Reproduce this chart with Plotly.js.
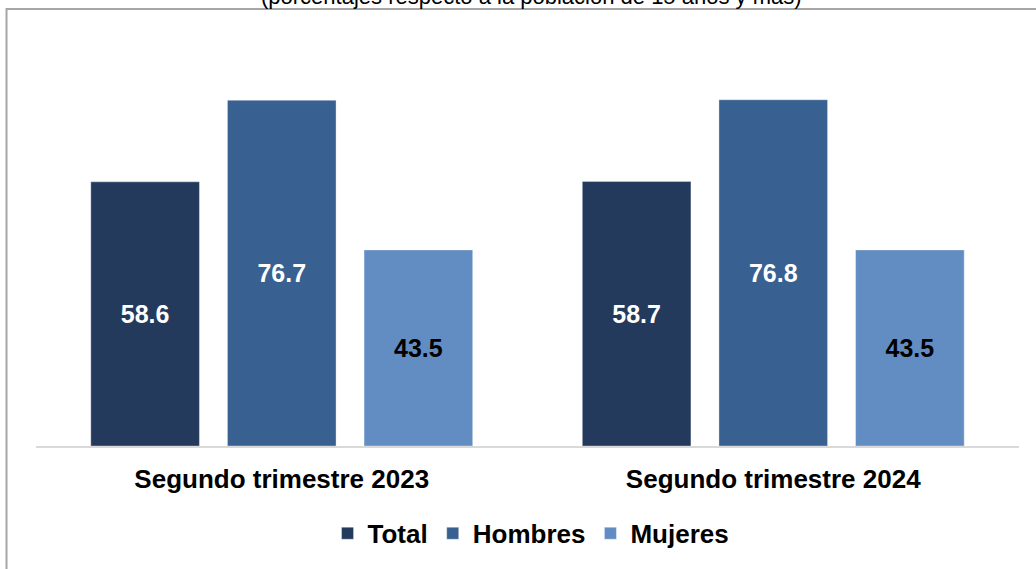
<!DOCTYPE html>
<html>
<head>
<meta charset="utf-8">
<script src="https://cdn.plot.ly/plotly-3.0.1.min.js"></script>
<style>
  html, body { margin: 0; padding: 0; background: #ffffff; }
  #chart { width: 1036px; height: 569px; }
</style>
</head>
<body>
<div id="chart"></div>
<script>
const categories = ["Segundo trimestre 2023", "Segundo trimestre 2024"];
const seriesNames = ["Total", "Hombres", "Mujeres"];
const totalValues = [58.6, 58.7];
const hombresValues = [76.7, 76.8];
const mujeresValues = [43.5, 43.5];
const subtitle = "(porcentajes respecto a la población de 15 años y más)";

const colors = ["#233a5c", "#386090", "#628dc2"];
const labelColors = ["#ffffff", "#ffffff", "#000000"];
const seriesValues = [totalValues, hombresValues, mujeresValues];

const fontFam = "Liberation Sans, Arial, Helvetica, sans-serif";

const traces = seriesNames.map((name, i) => ({
  type: "bar",
  name: name,
  x: categories,
  y: seriesValues[i],
  marker: { color: colors[i], line: { color: "rgba(255,255,255,0.35)", width: 1 } },
  texttemplate: "%{y:.1f}",
  textposition: "inside",
  insidetextanchor: "middle",
  textangle: 0,
  constraintext: "none",
  insidetextfont: { family: fontFam, size: 25, color: labelColors[i], weight: 700 },
  hoverinfo: "skip"
}));

const layout = {
  width: 1036,
  height: 569,
  margin: { l: 36, r: 17, t: 20, b: 120 },
  paper_bgcolor: "#ffffff",
  plot_bgcolor: "#ffffff",
  barmode: "group",
  bargap: 0.166,
  bargroupgap: 0.205,
  showlegend: true,
  legend: {
    orientation: "h",
    x: 0.5036,
    xanchor: "center",
    y: -0.205,
    yanchor: "middle",
    font: { family: fontFam, size: 26, color: "#000000", weight: 700 },
    itemwidth: 30,
    bgcolor: "rgba(0,0,0,0)"
  },
  xaxis: {
    type: "category",
    showline: true,
    linecolor: "#d9d9d9",
    linewidth: 2,
    showgrid: false,
    zeroline: false,
    ticks: "",
    ticklabelstandoff: 9,
    tickfont: { family: fontFam, size: 26, color: "#000000", weight: 700 },
    fixedrange: true
  },
  yaxis: {
    range: [0, 94.5],
    visible: false,
    showgrid: false,
    zeroline: false,
    fixedrange: true
  },
  shapes: [
    {
      type: "rect",
      xref: "paper", yref: "paper",
      x0: -0.0300, x1: 1.03,
      y0: -0.32, y1: 1.0257,
      line: { color: "#a6a6a6", width: 2 },
      fillcolor: "rgba(0,0,0,0)",
      layer: "below"
    }
  ],
  annotations: [
    {
      text: subtitle,
      xref: "paper", yref: "paper",
      x: 0.5036, y: 1.054,
      xanchor: "center", yanchor: "middle",
      showarrow: false,
      font: { family: fontFam, size: 22, color: "#000000" }
    }
  ]
};

Plotly.newPlot("chart", traces, layout, { displayModeBar: false, staticPlot: true });
</script>
</body>
</html>
